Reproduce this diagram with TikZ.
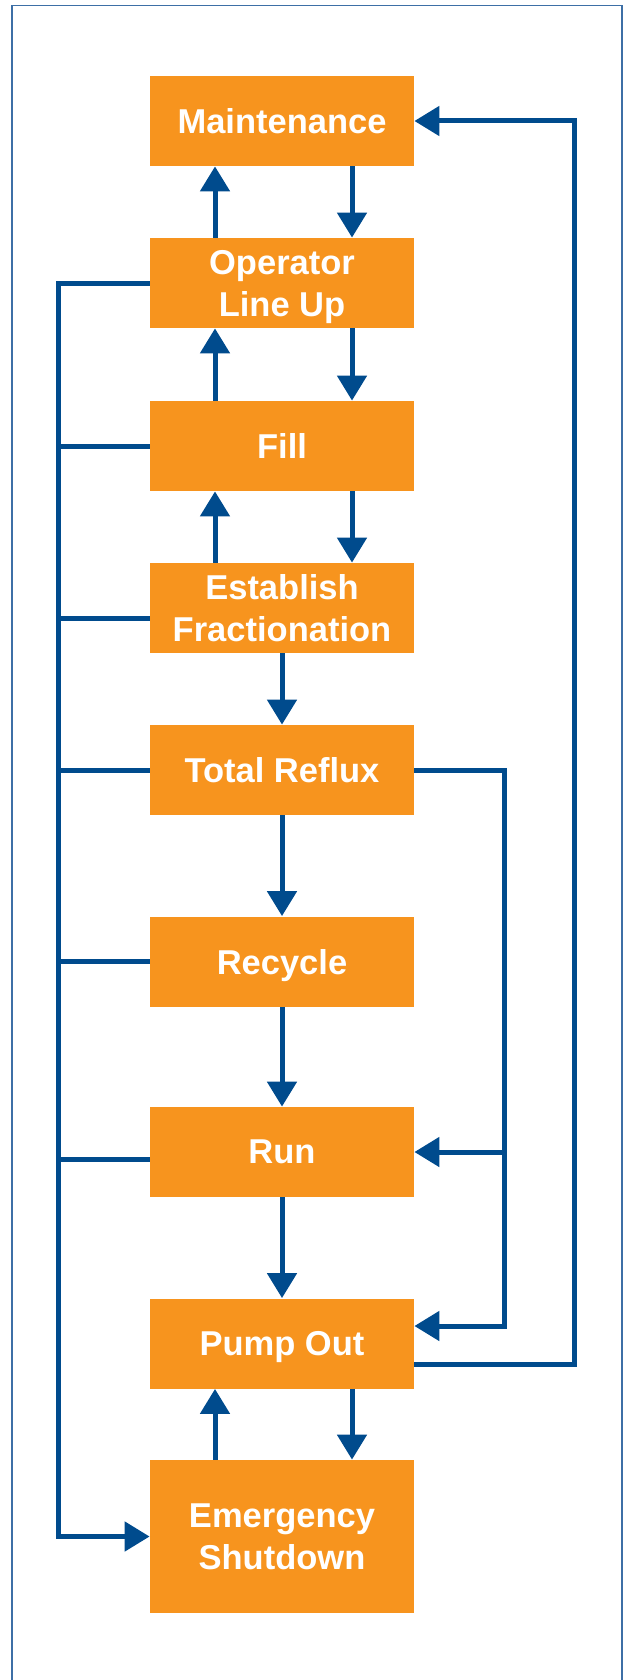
\documentclass[tikz,border=0pt]{standalone}
\usepackage{fontspec}
\setmainfont{Liberation Sans}
\usetikzlibrary{arrows.meta}
\definecolor{boxorange}{HTML}{F7941E}
\definecolor{linkblue}{HTML}{004B8D}
\definecolor{frameblue}{HTML}{3D6FA6}

\begin{document}
\begin{tikzpicture}[x=0.5pt,y=-0.5pt,
state node/.style={fill=boxorange,text=white,minimum width=132pt,minimum height=45pt,
  inner sep=0pt,text depth=0pt,align=center,font=\fontsize{17.25}{21}\selectfont\bfseries},
link/.style={draw=linkblue,line width=2.5pt},
flow/.style={link,-{Triangle[length=12.5pt,width=14.5pt]}}]

\useasboundingbox (0,0) rectangle (625,1680);
\draw[frameblue,line width=0.75pt] (12,1700) -- (12,5.5) -- (622,5.5) -- (622,1700);

\node[state node] (maint) at (282,121) {Maintenance};
\node[state node] (oper) at (282,283) {Operator\\Line Up};
\node[state node] (fill) at (282,446) {Fill};
\node[state node] (estab) at (282,608) {Establish\\Fractionation};
\node[state node] (reflux) at (282,770) {Total Reflux};
\node[state node] (recycle) at (282,961.5) {Recycle};
\node[state node] (run) at (282,1152) {Run};
\node[state node] (pump) at (282,1343.5) {Pump Out};
\node[state node,minimum height=76.5pt] (emerg) at (282,1536.5) {Emergency\\Shutdown};

\coordinate (bus) at (58,283);
\coordinate (rbus) at (504,770);
\coordinate (obus) at (574,122);

\foreach \up/\down in {oper/maint,fill/oper,estab/fill,emerg/pump}
  \draw[flow] ([xshift=-33.5pt]\up.north) -- ([xshift=-33.5pt]\down.south);
\foreach \up/\down in {maint/oper,oper/fill,fill/estab,pump/emerg}
  \draw[flow] ([xshift=35pt]\up.south) -- ([xshift=35pt]\down.north);
\foreach \up/\down in {estab/reflux,reflux/recycle,recycle/run,run/pump}
  \draw[flow] (\up.south) -- (\down.north);

\draw[flow] (oper.west) -- (oper.west -| bus) |- (emerg.west);
\foreach \n/\dy in {fill/0,estab/-5,reflux/0,recycle/0,run/-3.5}
  \draw[link] ([yshift=\dy pt]\n.west) -- ([yshift=\dy pt]\n.west -| bus);

\draw[flow] (reflux.east) -- (reflux.east -| rbus) |- ([yshift=8.75pt]pump.east);
\draw[flow] (run.east -| rbus) -- (run.east);
\draw[flow] ([yshift=-10.25pt]pump.east) -- ([yshift=-10.25pt]pump.east -| obus) |- (maint.east);
\end{tikzpicture}
\end{document}
